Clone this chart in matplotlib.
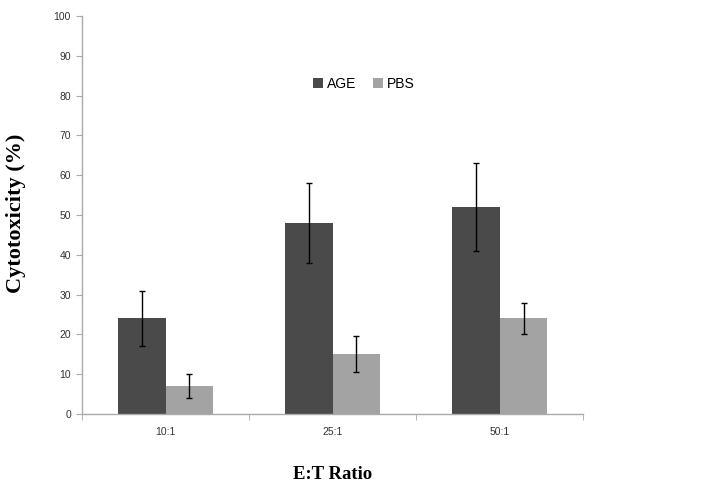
import matplotlib
matplotlib.use("Agg")
import matplotlib.pyplot as plt
import numpy as np

# E:T ratios and cytotoxicity values (%)
ratios = ["10:1", "25:1", "50:1"]
age_vals = [24, 48, 52]
age_err = [7, 10, 11]
pbs_vals = [7, 15, 24]
pbs_err = [3, 4.5, 4]

fig = plt.figure(figsize=(7.07, 4.95), dpi=100)
ax = fig.add_axes([0.116, 0.1636, 0.709, 0.8041])

x = np.arange(len(ratios))
w = 0.285
ax.bar(x - w / 2, age_vals, w, color='#4a4a4a', label='AGE', zorder=2)
ax.bar(x + w / 2, pbs_vals, w, color='#a3a3a3', label='PBS', zorder=2)
ax.errorbar(x - w / 2, age_vals, yerr=age_err, fmt='none', ecolor='black',
            elinewidth=1, capsize=2, capthick=1, zorder=3)
ax.errorbar(x + w / 2, pbs_vals, yerr=pbs_err, fmt='none', ecolor='black',
            elinewidth=1, capsize=2, capthick=1, zorder=3)

ax.set_xlim(-0.5, 2.5)
ax.set_ylim(0, 100)
ax.set_yticks(range(0, 101, 10))
ax.set_xticks(x)
ax.set_xticklabels(ratios)
ax.set_xticks([-0.5, 0.5, 1.5, 2.5], minor=True)
ax.tick_params(axis='x', which='major', length=0, pad=9)
ax.tick_params(axis='x', which='minor', length=4, color='#aaaaaa', direction='out')
ax.tick_params(axis='y', length=4, color='#aaaaaa', direction='out', pad=4)
for lab in ax.get_xticklabels() + ax.get_yticklabels():
    lab.set_fontsize(7.5)
    lab.set_color('#333333')
    lab.set_family('Liberation Sans')

for s in ['top', 'right']:
    ax.spines[s].set_visible(False)
for s in ['left', 'bottom']:
    ax.spines[s].set_color('#aaaaaa')
    ax.spines[s].set_linewidth(1)

ax.set_ylabel('Cytotoxicity (%)', fontsize=16, fontweight='bold',
              family='Liberation Serif')
ax.yaxis.set_label_coords(-0.112, 0.505)
ax.set_xlabel('E:T Ratio', fontsize=13.5, fontweight='bold',
              family='Liberation Serif')
ax.xaxis.set_label_coords(0.5, -0.13)

ax.legend(loc='center', bbox_to_anchor=(0.563, 0.83), ncol=2, frameon=False,
          handlelength=0.7, handleheight=0.7, columnspacing=1.2,
          handletextpad=0.3, prop={'family': 'Liberation Sans', 'size': 10})

plt.savefig('out.png', dpi=100, facecolor='white')
